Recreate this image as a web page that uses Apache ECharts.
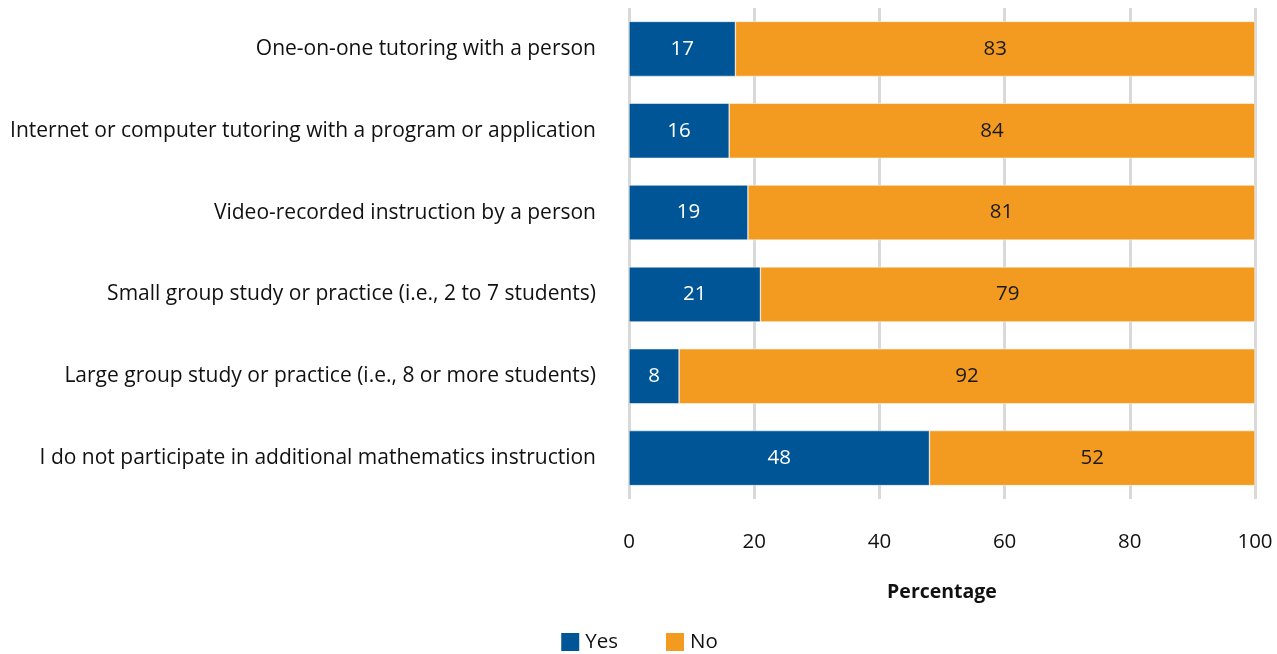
<!DOCTYPE html>
<html><head><meta charset="utf-8">
<script src="https://cdn.jsdelivr.net/npm/echarts@6/dist/echarts.min.js"></script>
<style>html,body{margin:0;padding:0;background:#fff}#c{width:1277px;height:654px}</style>
</head><body><div id="c"></div>
<script>
const categories = [
  "One-on-one tutoring with a person",
  "Internet or computer tutoring with a program or application",
  "Video-recorded instruction by a person",
  "Small group study or practice (i.e., 2 to 7 students)",
  "Large group study or practice (i.e., 8 or more students)",
  "I do not participate in additional mathematics instruction"
];
const yesValues = [17, 16, 19, 21, 8, 48];
const noValues = [83, 84, 81, 79, 92, 52];
const xTicks = [0, 20, 40, 60, 80, 100];
const FONT = 'Open Sans';
const chart = echarts.init(document.getElementById('c'));
chart.setOption({
  animation: false,
  textStyle: {fontFamily: FONT},
  grid: {left: 629, right: 22, top: 8, bottom: 155, containLabel: false},
  xAxis: {
    type: 'value', min: 0, max: 100, interval: 20,
    name: 'Percentage', nameLocation: 'middle', nameGap: 83,
    nameTextStyle: {fontFamily: FONT, fontSize: 19.5, fontWeight: 'bold', color: '#111'},
    axisLine: {show: false}, axisTick: {show: false},
    axisLabel: {fontFamily: FONT, fontSize: 20.5, color: '#111', margin: 33,
      formatter: v => xTicks.includes(v) ? String(v) : ''},
    splitLine: {show: true, lineStyle: {color: '#d9d9d9', width: 3}}
  },
  yAxis: {
    type: 'category', data: categories, inverse: true,
    axisLine: {show: false}, axisTick: {show: false},
    axisLabel: {fontFamily: FONT, fontSize: 21, color: '#111', margin: 33}
  },
  legend: {
    bottom: -4, left: 'center', itemWidth: 20, itemHeight: 20, itemGap: 46,
    icon: 'rect',
    textStyle: {fontFamily: FONT, fontSize: 20.5, color: '#111'},
    data: ['Yes', 'No']
  },
  series: [
    {name: 'Yes', type: 'bar', stack: 's', data: yesValues, barWidth: 55,
     itemStyle: {color: '#005596', borderColor: '#ffffff', borderWidth: 0.5},
     label: {show: true, position: 'inside', color: '#ffffff', fontFamily: FONT, fontSize: 20.5}},
    {name: 'No', type: 'bar', stack: 's', data: noValues, barWidth: 55,
     itemStyle: {color: '#F39A21', borderColor: '#ffffff', borderWidth: 0.5},
     label: {show: true, position: 'inside', color: '#1a1a1a', fontFamily: FONT, fontSize: 20.5}}
  ]
});
</script></body></html>
